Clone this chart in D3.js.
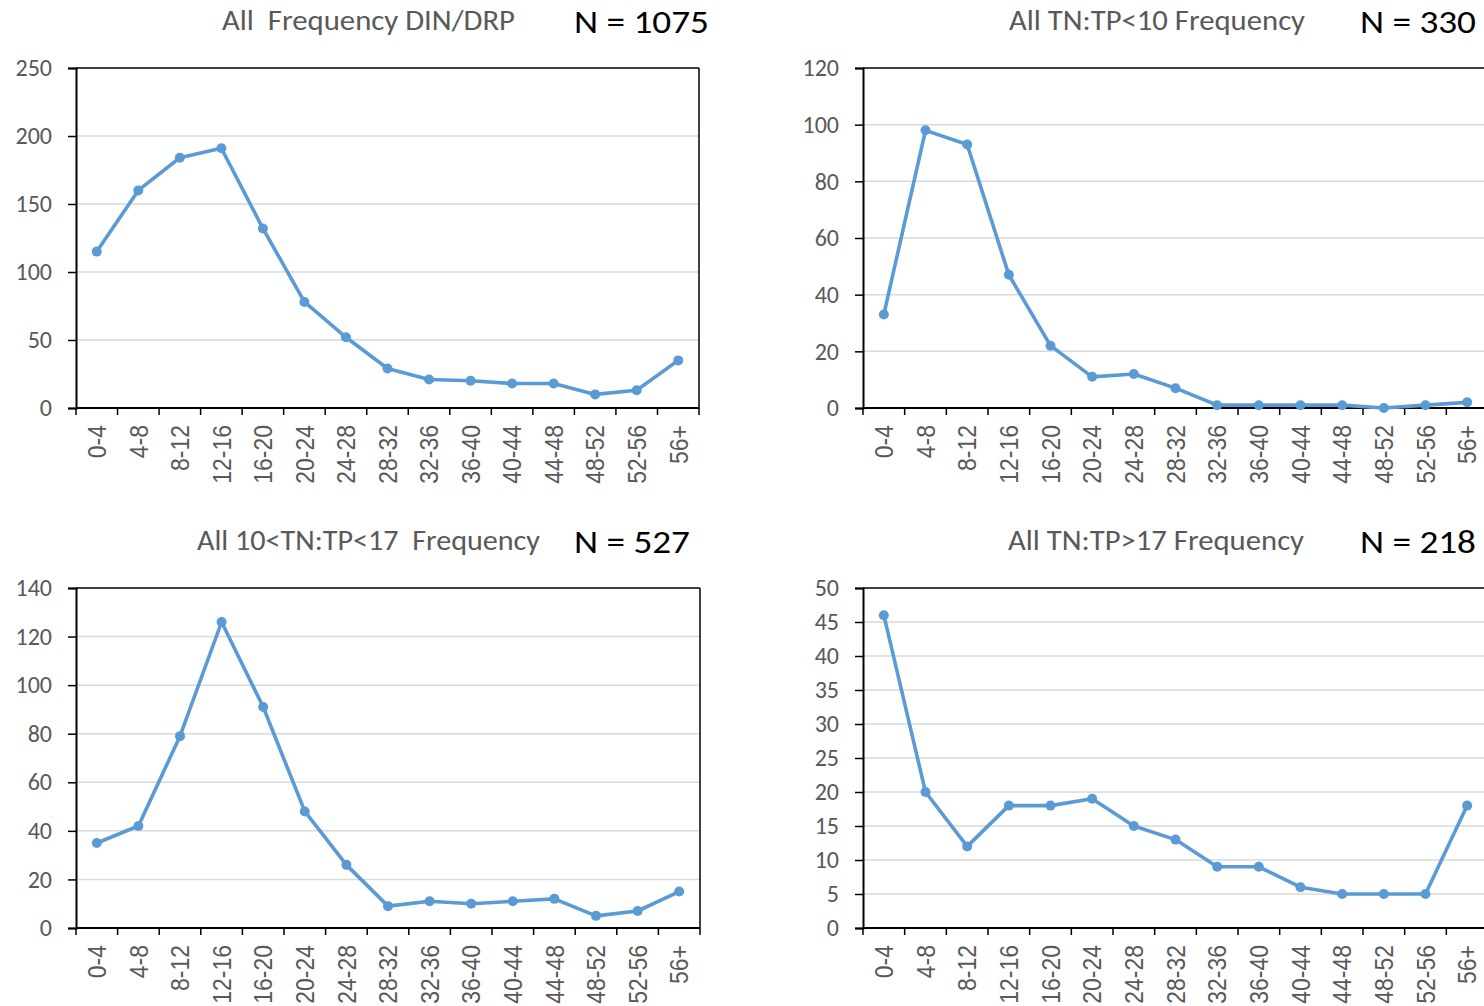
<!DOCTYPE html>
<html><head><meta charset="utf-8">
<script src="https://cdn.jsdelivr.net/npm/d3@7"></script>
<style>
html,body{margin:0;padding:0;background:#fff;}
svg{display:block;}
</style></head>
<body>
<svg id="chart" width="1484" height="1006"></svg>
<script>
const categories = ["0-4","4-8","8-12","12-16","16-20","20-24","24-28","28-32","32-36","36-40","40-44","44-48","48-52","52-56","56+"];

const allDinDrp   = [115,160,184,191,132,78,52,29,21,20,18,18,10,13,35];
const tnTpLt10    = [33,98,93,47,22,11,12,7,1,1,1,1,0,1,2];
const tnTp10to17  = [35,42,79,126,91,48,26,9,11,10,11,12,5,7,15];
const tnTpGt17    = [46,20,12,18,18,19,15,13,9,9,6,5,5,5,18];

const titles  = ["All  Frequency DIN/DRP","All TN:TP<10 Frequency","All 10<TN:TP<17  Frequency","All TN:TP>17 Frequency"];
const nLabels = ["N = 1075","N = 330","N = 527","N = 218"];
const yMaxes  = [250,120,140,50];
const yStepsV = [50,20,20,5];

const series = [allDinDrp, tnTpLt10, tnTp10to17, tnTpGt17];

// layout (pixels)
const panels = [
  {x:76,  y:68,  w:623, h:340, titleEnd:515, titleW:293, nStart:574, nW:135, titleY:30},
  {x:863, y:68,  w:625, h:340, titleEnd:1305, titleW:296, nStart:1360, nW:116, titleY:30},
  {x:76,  y:588, w:624, h:340, titleEnd:540, titleW:343, nStart:574, nW:116, titleY:550},
  {x:863, y:588, w:625, h:340, titleEnd:1304, titleW:296, nStart:1360, nW:116, titleY:550}
];

const svg = d3.select("#chart");
const narrow = "Carlito, 'Liberation Sans Narrow', 'Open Sans', sans-serif";
const lineColor = "#5b9bd5";

panels.forEach((p, i) => {
  const g = svg.append("g");
  const x = d3.scaleBand().domain(categories).range([p.x, p.x + p.w]).paddingInner(0).paddingOuter(0);
  const y = d3.scaleLinear().domain([0, yMaxes[i]]).range([p.y + p.h, p.y]);
  const ticks = d3.range(0, yMaxes[i] + 0.001, yStepsV[i]);

  // gridlines
  g.selectAll(".grid").data(ticks.filter(t => t > 0 && t < yMaxes[i])).enter().append("line")
    .attr("x1", p.x).attr("x2", p.x + p.w)
    .attr("y1", d => y(d)).attr("y2", d => y(d))
    .attr("stroke", "#d9d9d9").attr("stroke-width", 1.5);

  // plot border (top & right)
  g.append("line").attr("x1", p.x).attr("x2", p.x + p.w).attr("y1", p.y).attr("y2", p.y)
    .attr("stroke", "#000").attr("stroke-width", 1.5);
  g.append("line").attr("x1", p.x + p.w).attr("x2", p.x + p.w).attr("y1", p.y).attr("y2", p.y + p.h)
    .attr("stroke", "#000").attr("stroke-width", 1.5);

  // y axis
  const yAxis = d3.axisLeft(y).tickValues(ticks).tickSize(8).tickPadding(16).tickFormat(d3.format("d"));
  const ya = g.append("g").attr("transform", `translate(${p.x},0)`).call(yAxis);
  ya.select(".domain").attr("stroke", "#000").attr("stroke-width", 2);
  ya.selectAll(".tick line").attr("stroke", "#000").attr("stroke-width", 1.5);
  ya.selectAll(".tick text").attr("font-family", narrow).attr("font-size", 24).attr("fill", "#595959");

  // x axis
  const xa = g.append("g").attr("transform", `translate(0,${p.y + p.h})`);
  xa.append("line").attr("x1", p.x).attr("x2", p.x + p.w).attr("stroke", "#000").attr("stroke-width", 2);
  const bounds = categories.map(c => x(c)).concat([p.x + p.w]);
  xa.selectAll(".xt").data(bounds).enter().append("line")
    .attr("x1", d => d).attr("x2", d => d).attr("y1", 0).attr("y2", 7)
    .attr("stroke", "#000").attr("stroke-width", 1.5);
  xa.selectAll(".xl").data(categories).enter().append("text")
    .attr("transform", d => `translate(${x(d) + x.bandwidth() / 2},17) rotate(-90) scale(1,1.12)`)
    .attr("text-anchor", "end").attr("dy", "0.36em")
    .attr("font-family", "'Liberation Sans', Arial, sans-serif").attr("font-size", 23)
    .attr("fill", "#595959").text(d => d);

  // line
  const data = categories.map((c, k) => ({c, v: series[i][k]}));
  const line = d3.line().x(d => x(d.c) + x.bandwidth() / 2).y(d => y(d.v));
  g.append("path").datum(data).attr("d", line).attr("fill", "none")
    .attr("stroke", lineColor).attr("stroke-width", 3.6).attr("stroke-linejoin", "round");
  g.selectAll(".pt").data(data).enter().append("circle")
    .attr("cx", d => x(d.c) + x.bandwidth() / 2).attr("cy", d => y(d.v)).attr("r", 5)
    .attr("fill", lineColor);

  // titles
  g.append("text").attr("x", p.titleEnd).attr("y", p.titleY).attr("text-anchor", "end")
    .attr("font-family", narrow).attr("font-size", 28).attr("fill", "#595959")
    .attr("textLength", p.titleW).attr("lengthAdjust", "spacingAndGlyphs")
    .attr("xml:space", "preserve").style("white-space", "pre")
    .text(titles[i]);
  g.append("text").attr("x", p.nStart).attr("y", p.titleY + 3)
    .attr("font-family", narrow).attr("font-size", 33).attr("fill", "#000")
    .attr("textLength", p.nW).attr("lengthAdjust", "spacingAndGlyphs")
    .text(nLabels[i]);
});
</script>
</body></html>
